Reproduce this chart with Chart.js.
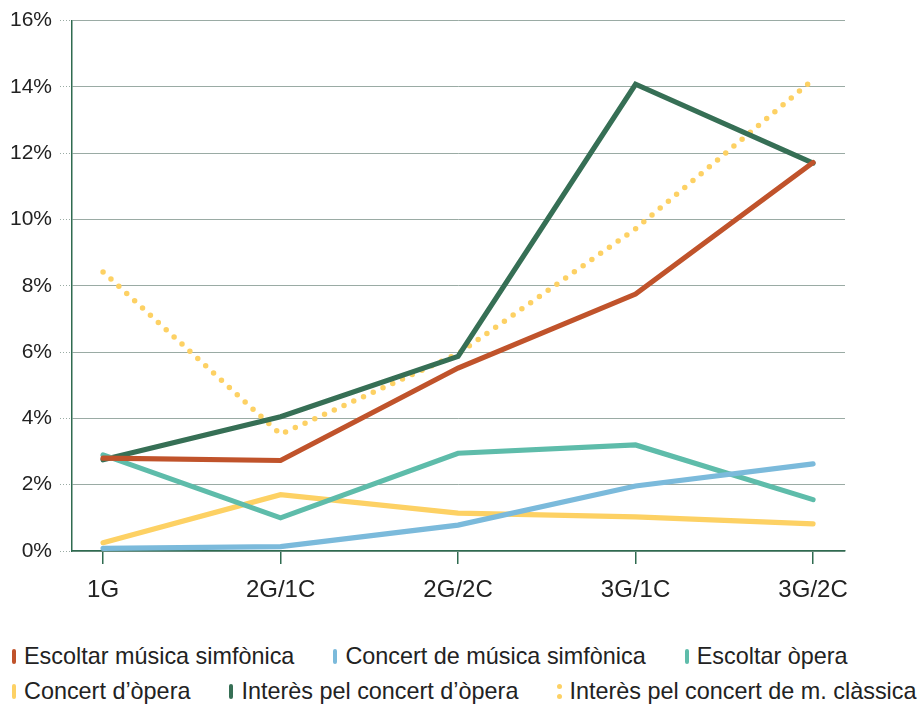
<!DOCTYPE html>
<html>
<head>
<meta charset="utf-8">
<script src="https://cdn.jsdelivr.net/npm/chart.js@4.4.0/dist/chart.umd.min.js"></script>
<style>
  html, body { margin: 0; padding: 0; background: #fff; }
  #wrap { position: relative; width: 920px; height: 704px; font-family: "Liberation Sans", Arial, sans-serif; color: #222; }
  #chartBox { position: absolute; left: 0; top: 0; width: 920px; height: 630px; }
  #legend { position: absolute; left: 12px; top: 639px; width: 915px; font-size: 23.4px; }
  .row { display: flex; height: 35px; align-items: center; white-space: nowrap; }
  .item { display: flex; align-items: center; margin-right: 39px; }
  .mark { width: 4px; height: 15px; border-radius: 2px; margin-right: 8px; }
  .dots { width: 5px; height: 15px; margin-right: 7px; display: flex; flex-direction: column; justify-content: space-between; }
  .dots span { width: 5px; height: 5px; border-radius: 50%; }
</style>
</head>
<body>
<div id="wrap">
  <div id="chartBox"><canvas id="chart"></canvas></div>
  <div id="legend"></div>
</div>
<script>
var categories = ['1G', '2G/1C', '2G/2C', '3G/1C', '3G/2C'];
var yTicks = [0, 2, 4, 6, 8, 10, 12, 14, 16];

var escoltarSimfonica = [2.8, 2.73, 5.52, 7.75, 11.72];
var concertSimfonica = [0.08, 0.13, 0.78, 1.96, 2.63];
var escoltarOpera = [2.9, 1.0, 2.95, 3.2, 1.55];
var concertOpera = [0.25, 1.7, 1.14, 1.03, 0.82];
var interesOpera = [2.75, 4.05, 5.87, 14.08, 11.7];
var interesClassica = [8.42, 3.52, 5.95, 9.72, 14.22];

var seriesNames = [
  'Escoltar música simfònica',
  'Concert de música simfònica',
  'Escoltar òpera',
  'Concert d\u2019òpera',
  'Interès pel concert d\u2019òpera',
  'Interès pel concert de m. clàssica'
];
var seriesValues = [escoltarSimfonica, concertSimfonica, escoltarOpera, concertOpera, interesOpera, interesClassica];
var seriesColors = ['#C0532B', '#7BBADB', '#5EBCAA', '#FDD164', '#366F55', '#FDD164'];

var axisGreen = '#2F6B50';
var gridGrey = '#9AABA4';

function toPoints(arr) {
  return arr.map(function (v, i) { return { x: i, y: v }; });
}

var datasets = seriesValues.map(function (vals, i) {
  var dotted = (i === 5);
  return {
    label: seriesNames[i],
    data: toPoints(vals),
    borderColor: seriesColors[i],
    backgroundColor: seriesColors[i],
    borderWidth: dotted ? 5.5 : 5.2,
    borderDash: dotted ? [0, 10.7] : [],
    borderCapStyle: 'round',
    borderJoinStyle: dotted ? 'round' : 'miter',
    pointRadius: 0,
    tension: 0,
    fill: false
  };
});

var ctx = document.getElementById('chart');
var chart = new Chart(ctx, {
  type: 'line',
  data: { datasets: datasets },
  options: {
    responsive: true,
    maintainAspectRatio: false,
    animation: false,
    layout: { padding: { top: 17, right: 75, left: 0, bottom: 0 } },
    plugins: { legend: { display: false }, tooltip: { enabled: false } },
    scales: {
      x: {
        type: 'linear',
        min: -0.175,
        max: 4.18,
        afterBuildTicks: function (axis) {
          axis.ticks = categories.map(function (c, i) { return { value: i }; });
        },
        afterFit: function (axis) { axis.height = 630 - 551; },
        border: { display: true, color: axisGreen, width: 1.5 },
        grid: { display: true, drawOnChartArea: false, drawTicks: true, tickLength: 13, color: axisGreen, lineWidth: 1.5 },
        ticks: {
          autoSkip: false,
          maxRotation: 0,
          padding: 12,
          color: '#222',
          font: { family: '"Liberation Sans", Arial, sans-serif', size: 24 },
          callback: function (v) { return categories[v]; }
        }
      },
      y: {
        min: 0,
        max: 16,
        afterBuildTicks: function (axis) {
          axis.ticks = yTicks.map(function (t) { return { value: t }; });
        },
        afterFit: function (axis) { axis.width = 72; },
        border: { display: true, color: axisGreen, width: 1.5 },
        grid: { color: gridGrey, lineWidth: 1, tickLength: 12, borderDash: [1, 2], tickBorderDash: [1, 2] },
        ticks: {
          padding: 8,
          color: '#222',
          font: { family: '"Liberation Sans", Arial, sans-serif', size: 21 },
          callback: function (v) { return v + '%'; }
        }
      }
    }
  }
});

// legend, two rows like the original
var legend = document.getElementById('legend');
[[0, 1, 2], [3, 4, 5]].forEach(function (rowIdx) {
  var row = document.createElement('div');
  row.className = 'row';
  rowIdx.forEach(function (i) {
    var item = document.createElement('div');
    item.className = 'item';
    var mk = document.createElement('div');
    if (i === 5) {
      mk.className = 'dots';
      mk.innerHTML = '<span style="background:' + seriesColors[i] + '"></span><span style="background:' + seriesColors[i] + '"></span>';
    } else {
      mk.className = 'mark';
      mk.style.background = seriesColors[i];
    }
    var txt = document.createElement('span');
    txt.textContent = seriesNames[i];
    item.appendChild(mk);
    item.appendChild(txt);
    row.appendChild(item);
  });
  legend.appendChild(row);
});
</script>
</body>
</html>
